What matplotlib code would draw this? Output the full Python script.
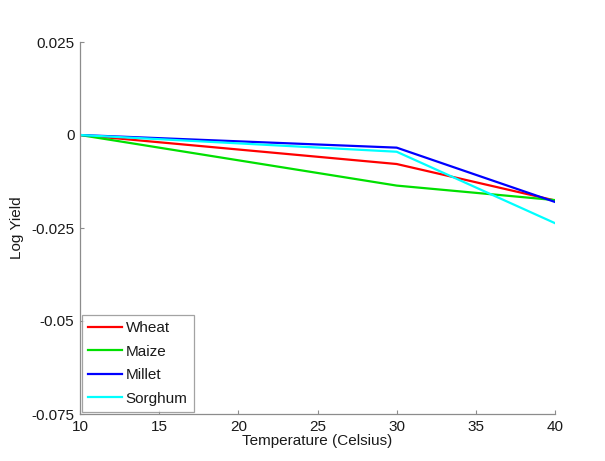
import matplotlib
matplotlib.use("Agg")
import matplotlib.pyplot as plt

temperature = [10, 30, 40]
wheat = [0.0, -0.0078, -0.0176]
maize = [0.0, -0.0136, -0.0175]
millet = [0.0, -0.0034, -0.0180]
sorghum = [0.0, -0.0045, -0.0237]

series_names = ["Wheat", "Maize", "Millet", "Sorghum"]
series_colors = ["#ff0000", "#00e000", "#0000ff", "#00ffff"]

x_ticks = [10, 15, 20, 25, 30, 35, 40]
y_ticks = [-0.075, -0.05, -0.025, 0, 0.025]
y_tick_labels = ["-0.075", "-0.05", "-0.025", "0", "0.025"]

plt.rcParams["font.family"] = ["Liberation Sans", "DejaVu Sans"]

fig = plt.figure(figsize=(6.05, 4.61), dpi=100)
ax = fig.add_axes([80 / 605, 47 / 461, 475 / 605, 372 / 461])

for values, name, color in zip([wheat, maize, millet, sorghum], series_names, series_colors):
    ax.plot(temperature, values, color=color, lw=1.6, label=name)

ax.set_xlim(10, 40)
ax.set_ylim(-0.075, 0.025)
ax.set_xticks(x_ticks)
ax.set_yticks(y_ticks)
ax.set_yticklabels(y_tick_labels)

for side in ["top", "right"]:
    ax.spines[side].set_visible(False)
for side in ["left", "bottom"]:
    ax.spines[side].set_color("#8c8c8c")
    ax.spines[side].set_linewidth(0.9)

ax.tick_params(direction="in", length=3, color="#8c8c8c", labelsize=11,
               labelcolor="#1a1a1a", pad=4)

ax.set_xlabel("Temperature (Celsius)", fontsize=11, color="#1a1a1a", labelpad=0)
ax.set_ylabel("Log Yield", fontsize=11, color="#1a1a1a", labelpad=5)

leg = ax.legend(loc="lower left", fontsize=11, frameon=True, fancybox=False,
                edgecolor="#8c8c8c", handlelength=2.2, handletextpad=0.25,
                borderpad=0.4, labelspacing=0.62, borderaxespad=0.15)
leg.get_frame().set_linewidth(0.9)
for text in leg.get_texts():
    text.set_color("#1a1a1a")

fig.savefig("out.png", dpi=100)
